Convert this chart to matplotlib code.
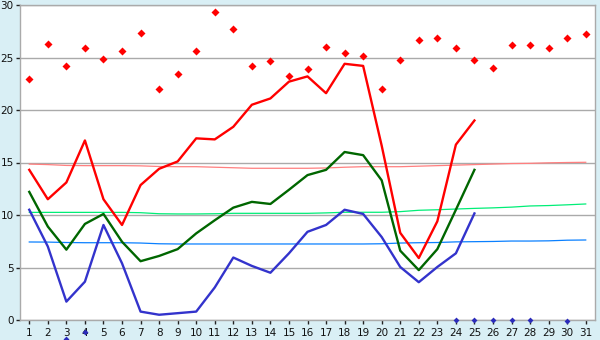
import numpy as np
import matplotlib.pyplot as plt

days = list(range(1, 32))

# daily maxima (points)
t_max = [23.0, 26.25, 24.15, 25.9, 24.9, 25.6, 27.3, 22.0, 23.4, 25.6,
         29.3, 27.7, 24.15, 24.7, 23.2, 23.9, 26.0, 25.4, 25.1, 22.0,
         24.8, 26.7, 26.9, 25.9, 24.8, 24.0, 26.2, 26.2, 25.9, 26.9, 27.2]

# measured series, days 1-25
t_day = [14.3, 11.5, 13.1, 17.1, 11.5, 9.05, 12.85, 14.4, 15.1, 17.3,
         17.2, 18.4, 20.5, 21.1, 22.7, 23.2, 21.6, 24.4, 24.2, 16.6,
         8.3, 5.9, 9.4, 16.7, 19.0]
t_mean = [12.2, 8.9, 6.7, 9.15, 10.1, 7.45, 5.6, 6.1, 6.75, 8.25,
          9.5, 10.7, 11.25, 11.05, 12.4, 13.8, 14.3, 16.0, 15.7, 13.3,
          6.6, 4.75, 6.75, 10.5, 14.3]
t_min = [10.5, 7.0, 1.75, 3.65, 9.05, 5.4, 0.8, 0.5, 0.65, 0.8,
         3.1, 5.95, 5.15, 4.5, 6.35, 8.4, 9.05, 10.5, 10.1, 7.9,
         5.05, 3.6, 5.05, 6.35, 10.15]

# long-term normals
norm_day = [14.85, 14.8, 14.72, 14.7, 14.7, 14.7, 14.68, 14.62, 14.6, 14.6,
            14.55, 14.5, 14.45, 14.45, 14.45, 14.45, 14.48, 14.55, 14.6, 14.6,
            14.6, 14.65, 14.7, 14.75, 14.8, 14.85, 14.9, 14.92, 14.97, 15.0, 15.02]
norm_mean = [10.25, 10.25, 10.25, 10.25, 10.25, 10.25, 10.22, 10.12, 10.1, 10.1,
             10.12, 10.16, 10.16, 10.16, 10.16, 10.16, 10.2, 10.26, 10.26, 10.26,
             10.32, 10.45, 10.5, 10.57, 10.63, 10.68, 10.75, 10.86, 10.9, 10.97, 11.05]
norm_min = [7.43, 7.42, 7.38, 7.36, 7.36, 7.36, 7.33, 7.26, 7.24, 7.24,
            7.24, 7.24, 7.24, 7.24, 7.24, 7.24, 7.24, 7.24, 7.24, 7.26,
            7.33, 7.36, 7.38, 7.44, 7.46, 7.48, 7.52, 7.52, 7.54, 7.6, 7.62]

# small markers near zero
low_days = [3, 4, 24, 25, 26, 27, 28, 30]
low_vals = [-1.8, -1.1, 0, 0, 0, 0, 0, -0.1]

bg = "#d9eff5"
grid_col = "#aaaaaa"

fig = plt.figure(figsize=(6, 3.4), dpi=100, facecolor=bg)
ax = fig.add_axes([20 / 600, 20 / 340, 575 / 600, 315 / 340])
ax.set_facecolor("white")

ax.plot(days, norm_day, color="#ff7f7f", lw=0.9)
ax.plot(days, norm_mean, color="#00ee77", lw=0.9)
ax.plot(days, norm_min, color="#0a80ff", lw=0.9)

n = len(t_day)
ax.plot(days[:n], t_day, color="#ff0000", lw=1.7)
ax.plot(days[:n], t_mean, color="#006600", lw=1.7)
ax.plot(days[:n], t_min, color="#3333cc", lw=1.7)

ax.plot(days, t_max, ls="none", marker="D", ms=3.6, color="#ff0000", mec="none")
ax.plot(low_days, low_vals, ls="none", marker="D", ms=3.0, color="#2b2bbb",
        mec="none", clip_on=False, zorder=5)

ax.set_xlim(0.5, 31.5)
ax.set_ylim(0, 30)
ax.set_xticks(days)
ax.set_yticks(range(0, 31, 5))
ax.yaxis.grid(True, color=grid_col, lw=1)
ax.set_axisbelow(True)

for s in ax.spines.values():
    s.set_color(grid_col)
    s.set_linewidth(1)

ax.tick_params(axis="both", direction="out", length=3, width=1, color="#222222",
               labelsize=7.5, labelcolor="#111111")
ax.tick_params(axis="x", pad=3)
ax.tick_params(axis="y", pad=1.5)

fig.savefig("out.png", dpi=100, facecolor=bg)
